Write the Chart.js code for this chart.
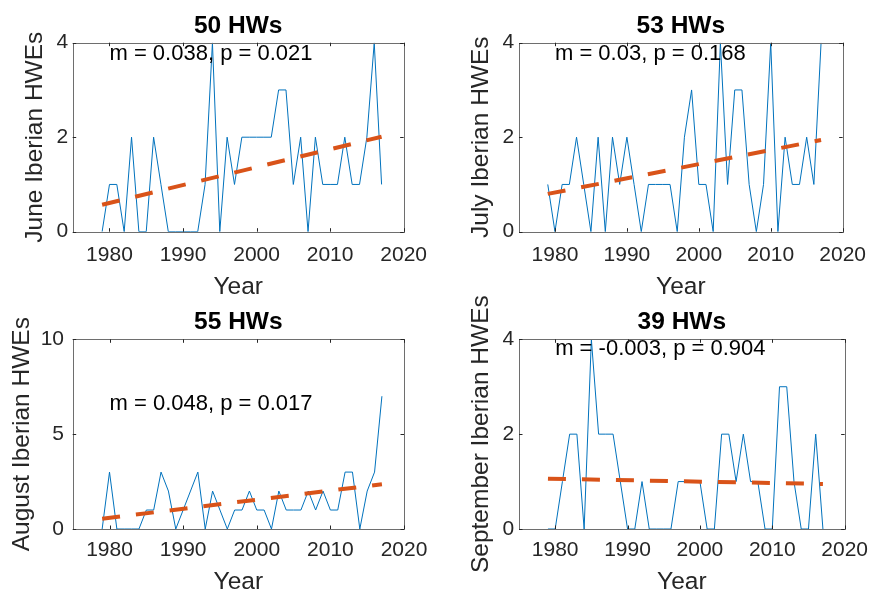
<!DOCTYPE html>
<html>
<head>
<meta charset="utf-8">
<script src="https://cdn.jsdelivr.net/npm/chart.js@4.4.1/dist/chart.umd.min.js"></script>
<style>
    body { margin: 0; background: #fff; }
    #wrap { position: relative; width: 877px; height: 594px; background: #fff; overflow: hidden; }
    #wrap canvas { position: absolute; }
</style>
</head>
<body>
<div id="wrap">
    <canvas id="cJune" width="438" height="300" style="left:0;top:0;"></canvas>
    <canvas id="cJuly" width="439" height="300" style="left:438px;top:0;"></canvas>
    <canvas id="cAugust" width="438" height="300" style="left:0;top:294px;"></canvas>
    <canvas id="cSeptember" width="439" height="300" style="left:438px;top:294px;"></canvas>
</div>
<script>
    // ---- data ----
    var years = [1979, 1980, 1981, 1982, 1983, 1984, 1985, 1986, 1987, 1988,
                 1989, 1990, 1991, 1992, 1993, 1994, 1995, 1996, 1997, 1998,
                 1999, 2000, 2001, 2002, 2003, 2004, 2005, 2006, 2007, 2008,
                 2009, 2010, 2011, 2012, 2013, 2014, 2015, 2016, 2017];

    var juneCounts      = [0, 1, 1, 0, 2, 0, 0, 2, 1, 0,  0, 0, 0, 0, 1, 4, 0, 2, 1, 2,  2, 2, 2, 2, 3, 3, 1, 2, 0, 2,  1, 1, 1, 2, 1, 1, 2, 4, 1];
    var julyCounts      = [1, 0, 1, 1, 2, 1, 0, 2, 0, 2,  1, 2, 1, 0, 1, 1, 1, 1, 0, 2,  3, 1, 1, 0, 4, 1, 3, 3, 1, 0,  1, 4, 0, 2, 1, 1, 2, 1, 4];
    var augustCounts    = [0, 3, 0, 0, 0, 0, 1, 1, 3, 2,  0, 1, 2, 3, 0, 2, 1, 0, 1, 1,  2, 1, 1, 0, 2, 1, 1, 1, 2, 1,  2, 1, 1, 3, 3, 0, 2, 3, 7];
    var septemberCounts = [0, 0, 1, 2, 2, 0, 4, 2, 2, 2,  1, 0, 0, 1, 0, 0, 0, 0, 1, 1,  1, 1, 0, 0, 2, 2, 1, 2, 1, 1,  0, 0, 3, 3, 1, 0, 0, 2, 0];

    // linear trend end points (first and last year)
    var trendYears     = [1979, 2017];
    var juneTrend      = [0.57, 2.01];
    var julyTrend      = [0.80, 1.94];
    var augustTrend    = [0.54, 2.36];
    var septemberTrend = [1.06, 0.95];

    var xTickValues  = [1980, 1990, 2000, 2010, 2020];
    var yTicksSmall  = [0, 2, 4];
    var yTicksLarge  = [0, 5, 10];

    var titles  = ['50 HWs', '53 HWs', '55 HWs', '39 HWs'];
    var yLabels = ['June Iberian HWEs', 'July Iberian HWEs', 'August Iberian HWEs', 'September Iberian HWEs'];
    var stats   = ['m = 0.038, p = 0.021', 'm = 0.03, p = 0.168', 'm = 0.048, p = 0.017', 'm = -0.003, p = 0.904'];

    var FONT = "'Liberation Sans', Arial, Helvetica, sans-serif";
    var AXIS_COLOR = '#262626';

    Chart.defaults.font.family = FONT;

    function toPoints(xs, ys) {
        var pts = [];
        for (var i = 0; i < xs.length; i++) pts.push({ x: xs[i], y: ys[i] });
        return pts;
    }

    // MATLAB-ish box with inward ticks, plus the slope/p annotation
    var boxPlugin = {
        id: 'matlabBox',
        afterDraw: function (chart, args, opts) {
            var ctx = chart.ctx;
            var a = chart.chartArea;
            var xs = chart.scales.x;
            var ys = chart.scales.y;
            var tl = 3.5;

            ctx.save();
            ctx.fillStyle = '#000';
            ctx.font = '22px ' + FONT;
            ctx.textAlign = 'left';
            ctx.textBaseline = 'middle';
            ctx.fillText(opts.text, xs.getPixelForValue(opts.x), ys.getPixelForValue(opts.y));

            // frame
            ctx.strokeStyle = '#6e6e6e';
            ctx.lineWidth = 1;
            ctx.strokeRect(Math.round(a.left) + 0.5, Math.round(a.top) + 0.5,
                           Math.round(a.right - a.left), Math.round(a.bottom - a.top));

            // inward ticks on all four sides
            ctx.strokeStyle = AXIS_COLOR;
            ctx.beginPath();
            xs.ticks.forEach(function (t) {
                var px = Math.round(xs.getPixelForValue(t.value)) + 0.5;
                ctx.moveTo(px, a.bottom); ctx.lineTo(px, a.bottom - tl);
                ctx.moveTo(px, a.top); ctx.lineTo(px, a.top + tl);
            });
            ys.ticks.forEach(function (t) {
                var py = Math.round(ys.getPixelForValue(t.value)) + 0.5;
                ctx.moveTo(a.left, py); ctx.lineTo(a.left + tl, py);
                ctx.moveTo(a.right, py); ctx.lineTo(a.right - tl, py);
            });
            ctx.stroke();
            ctx.restore();
        }
    };

    function makePanel(id, p) {
        var ctx = document.getElementById(id).getContext('2d');
        return new Chart(ctx, {
            type: 'line',
            data: {
                datasets: [{
                    data: toPoints(trendYears, p.trend),
                    borderColor: '#D95319',
                    borderWidth: 4,
                    borderDash: [18, 16],
                    borderCapStyle: 'butt',
                    pointRadius: 0,
                    fill: false
                }, {
                    data: toPoints(years, p.counts),
                    borderColor: '#0072BD',
                    borderWidth: 1,
                    pointRadius: 0,
                    tension: 0,
                    fill: false
                }]
            },
            options: {
                responsive: false,
                animation: false,
                devicePixelRatio: 1,
                layout: { padding: { left: 0, right: p.padRight, top: 0, bottom: 0 } },
                plugins: {
                    legend: { display: false },
                    tooltip: { enabled: false },
                    title: {
                        display: true,
                        text: p.title,
                        fullSize: false,
                        color: '#000',
                        font: { size: 24.5, weight: 'bold', lineHeight: 1.2 },
                        padding: { top: p.titleTop, bottom: p.titleBottom }
                    },
                    matlabBox: { text: p.stats, x: 1980, y: p.statsY }
                },
                scales: {
                    x: {
                        type: 'linear',
                        min: 1975,
                        max: 2020,
                        afterBuildTicks: function (s) {
                            s.ticks = xTickValues.map(function (v) { return { value: v }; });
                        },
                        afterFit: function (s) { s.height = p.xHeight; },
                        grid: { display: false, drawTicks: false, tickLength: 0 },
                        border: { display: false },
                        ticks: {
                            color: AXIS_COLOR, font: { size: 21 }, padding: p.xTickPad,
                            maxRotation: 0, autoSkip: false,
                            callback: function (v) { return String(v); }
                        },
                        title: {
                            display: true, text: 'Year', color: AXIS_COLOR,
                            font: { size: 24.5, lineHeight: 1.0 },
                            padding: { top: 0, bottom: p.xTitlePad }
                        }
                    },
                    y: {
                        min: 0,
                        max: p.yMax,
                        afterBuildTicks: function (s) {
                            s.ticks = p.yTicks.map(function (v) { return { value: v }; });
                        },
                        afterFit: function (s) { s.width = p.yWidth; },
                        grid: { display: false, drawTicks: false, tickLength: 0 },
                        border: { display: false },
                        ticks: { color: AXIS_COLOR, font: { size: 21 }, padding: p.yTickPad },
                        title: {
                            display: true, text: p.yLabel, color: AXIS_COLOR,
                            font: { size: 24.5, lineHeight: 1.0 },
                            padding: { top: p.yTitlePad, bottom: 0 }
                        }
                    }
                }
            },
            plugins: [boxPlugin]
        });
    }

    makePanel('cJune', {
        counts: juneCounts, trend: juneTrend, title: titles[0], yLabel: yLabels[0], stats: stats[0],
        statsY: 3.77, yMax: 4, yTicks: yTicksSmall,
        padRight: 34, yWidth: 72.7, xHeight: 68.3, titleTop: 11.8, titleBottom: 1.5,
        xTickPad: 11, xTitlePad: 1, yTickPad: 4.5, yTitlePad: 23
    });
    makePanel('cJuly', {
        counts: julyCounts, trend: julyTrend, title: titles[1], yLabel: yLabels[1], stats: stats[1],
        statsY: 3.77, yMax: 4, yTicks: yTicksSmall,
        padRight: 26.7, yWidth: 81, xHeight: 68.3, titleTop: 11.8, titleBottom: 1.5,
        xTickPad: 11, xTitlePad: 1, yTickPad: 4.7, yTitlePad: 30.7
    });
    makePanel('cAugust', {
        counts: augustCounts, trend: augustTrend, title: titles[2], yLabel: yLabels[2], stats: stats[2],
        statsY: 6.6, yMax: 10, yTicks: yTicksLarge,
        padRight: 34, yWidth: 72.7, xHeight: 65, titleTop: 14, titleBottom: 1.9,
        xTickPad: 9, xTitlePad: 0, yTickPad: 8.7, yTitlePad: 9.7
    });
    makePanel('cSeptember', {
        counts: septemberCounts, trend: septemberTrend, title: titles[3], yLabel: yLabels[3], stats: stats[3],
        statsY: 3.8, yMax: 4, yTicks: yTicksSmall,
        padRight: 26.7, yWidth: 81, xHeight: 65, titleTop: 14, titleBottom: 1.9,
        xTickPad: 9, xTitlePad: 0, yTickPad: 4.7, yTitlePad: 30.7
    });
</script>
</body>
</html>
